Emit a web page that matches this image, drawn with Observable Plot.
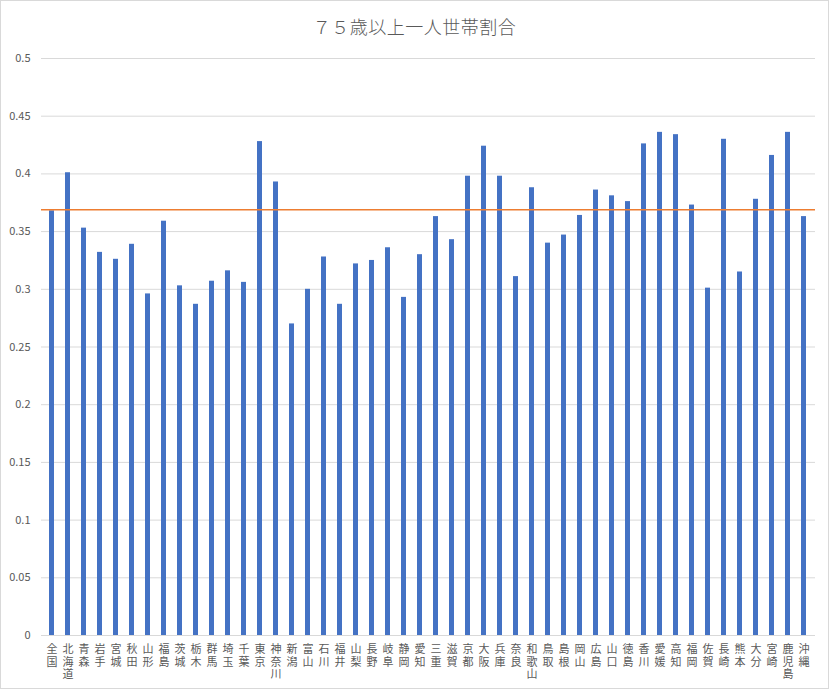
<!DOCTYPE html>
<html>
<head>
<meta charset="utf-8">
<script src="https://cdn.jsdelivr.net/npm/d3@7"></script>
<script src="https://cdn.jsdelivr.net/npm/@observablehq/plot@0.6"></script>
<style>
  html, body { margin: 0; padding: 0; background: #fff; }
  #wrap { width: 829px; height: 689px; outline: 1px solid #d9d9d9; outline-offset: -1px; overflow: hidden; font-family: "Noto Sans CJK JP", "Noto Sans", sans-serif; }
  #title { height: 45px; line-height: 52px; text-align: center; font-size: 18px; color: #595959; font-weight: 300; letter-spacing: 0.5px; }
</style>
</head>
<body>
<div id="wrap">
  <div id="title">７５歳以上一人世帯割合</div>
  <div id="chart"></div>
</div>
<script>
const prefectures = ["全国","北海道","青森","岩手","宮城","秋田","山形","福島","茨城","栃木","群馬","埼玉","千葉","東京","神奈川","新潟","富山","石川","福井","山梨","長野","岐阜","静岡","愛知","三重","滋賀","京都","大阪","兵庫","奈良","和歌山","鳥取","島根","岡山","広島","山口","徳島","香川","愛媛","高知","福岡","佐賀","長崎","熊本","大分","宮崎","鹿児島","沖縄"];
const ratios = [0.368,0.401,0.353,0.332,0.326,0.339,0.296,0.359,0.303,0.287,0.307,0.316,0.306,0.428,0.393,0.270,0.300,0.328,0.287,0.322,0.325,0.336,0.293,0.330,0.363,0.343,0.398,0.424,0.398,0.311,0.388,0.340,0.347,0.364,0.386,0.381,0.376,0.426,0.436,0.434,0.373,0.301,0.430,0.315,0.378,0.416,0.436,0.363];
const referenceLine = [0.369];
const yTicks = [0,0.05,0.1,0.15,0.2,0.25,0.3,0.35,0.4,0.45,0.5];

const data = prefectures.map((p, i) => ({pref: p, value: ratios[i]}));

const chart = Plot.plot({
  width: 829,
  height: 644,
  marginTop: 13,
  marginBottom: 54,
  marginLeft: 41,
  marginRight: 14,
  style: {fontFamily: "'Noto Sans CJK JP', 'Noto Sans', sans-serif", color: "#595959", background: "#fff"},
  x: {domain: prefectures, paddingInner: 0.68, paddingOuter: 0.34, label: null},
  y: {domain: [0, 0.5], label: null},
  marks: [
    Plot.ruleY(yTicks, {stroke: "#d9d9d9", strokeWidth: 1}),
    Plot.axisY({ticks: yTicks, tickSize: 0, tickPadding: 11, fontSize: 11, label: null, tickFormat: d => String(+d.toFixed(2))}),
    Plot.axisX({tickSize: 0, tickPadding: 9, fontSize: 11, lineHeight: 1.12, label: null, tickFormat: d => [...d].join("\n")}),
    Plot.barY(data, {x: "pref", y: "value", fill: "#4472C4"}),
    Plot.ruleY(referenceLine, {stroke: "#ED7D31", strokeWidth: 1.5})
  ]
});
document.getElementById("chart").appendChild(chart);
</script>
</body>
</html>
